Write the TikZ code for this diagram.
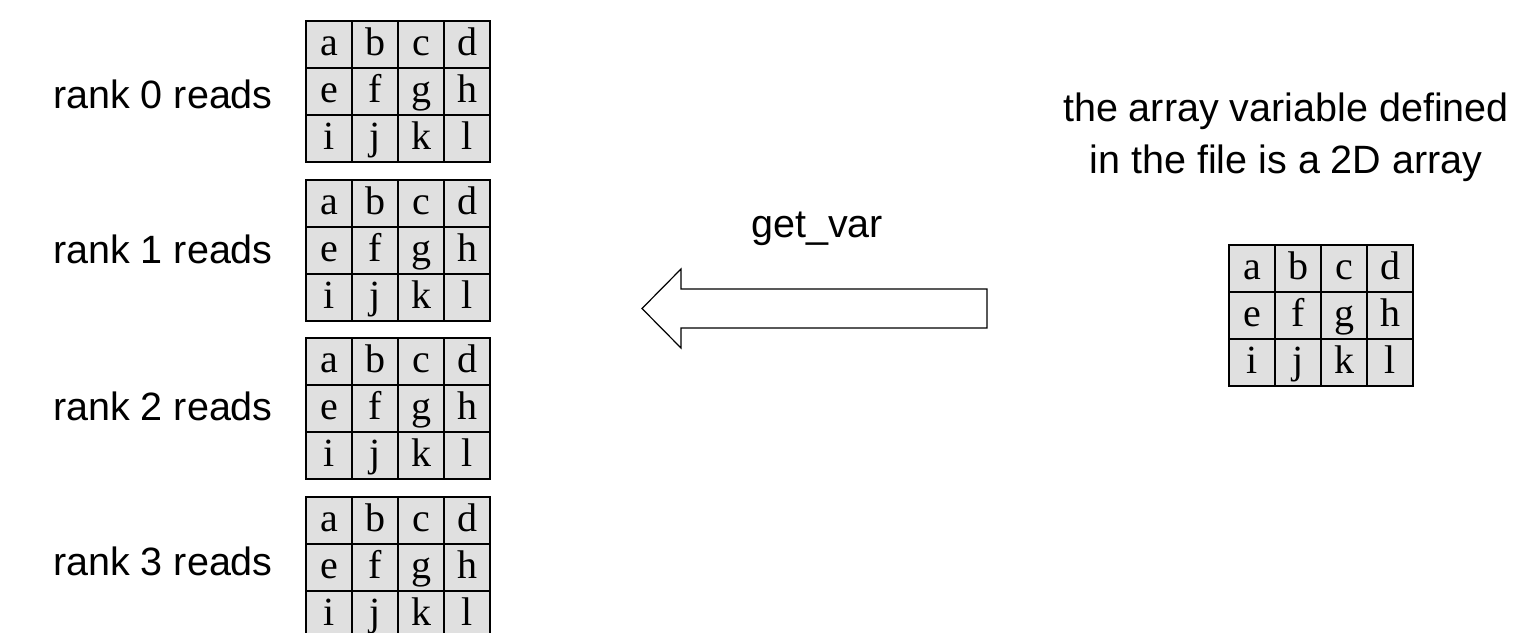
\documentclass[tikz,border=0pt]{standalone}
\usepackage{fontspec}
\setmainfont{Liberation Serif}
\newfontfamily\labelfont{Liberation Sans}
\definecolor{cellgray}{HTML}{E0E0E0}

% a 4x3 grid of letter cells; #1 = name prefix, (#2,#3) = top-left corner
\newcommand\lettergrid[3]{%
  \foreach \c/\col/\row in {a/0/0,b/1/0,c/2/0,d/3/0,
                            e/0/1,f/1/1,g/2/1,h/3/1,
                            i/0/2,j/1/2,k/2/2,l/3/2}
    \node[cell] (#1-\c) at ({#2+23+46*\col},{#3+23.5+47*\row}) {\c};%
}

\begin{document}
\begin{tikzpicture}[x=1pt,y=-1pt,
  cell/.style={draw=black, line width=1.6pt, fill=cellgray,
    minimum width=46pt, minimum height=47pt, inner sep=0pt,
    text height=26pt, text depth=5pt,
    font=\fontsize{40}{44}\selectfont},
  lbl/.style={font=\labelfont\fontsize{39.5}{47}\selectfont, inner sep=0pt},
  blockarrow/.style={draw=black, line width=1.2pt, fill=white, line join=miter}]
\useasboundingbox (0,0) rectangle (1520,632);

% per-rank copies
\lettergrid{g0}{306}{21}
\lettergrid{g1}{306}{180}
\lettergrid{g2}{306}{338}
\lettergrid{g3}{306}{497}

\node[lbl, anchor=base west] (r0) at (53,108) {rank 0 reads};
\node[lbl, anchor=base west] (r1) at (53,263) {rank 1 reads};
\node[lbl, anchor=base west] (r2) at (53,420) {rank 2 reads};
\node[lbl, anchor=base west] (r3) at (53,575) {rank 3 reads};

% the array stored in the file
\lettergrid{gf}{1229}{245}
\node[lbl, anchor=base] (desc1) at (1286,121.7) {the array variable defined};
\node[lbl, anchor=base] (desc2) at (1286,173.3) {in the file is a 2D array};

% read direction
\coordinate (tail) at (987,308.5);
\coordinate (tip) at (642,308.5);
\draw[blockarrow] ([yshift=-19.5pt]tail) -- ([yshift=-19.5pt]tail -| 681,0)
  -- ([yshift=-39.5pt]tip -| 681,0) -- (tip) -- ([yshift=39.5pt]tip -| 681,0)
  -- ([yshift=19.5pt]tail -| 681,0) -- ([yshift=19.5pt]tail) -- cycle;
\node[lbl, anchor=base] (getvar) at (817,237) {get\_var};
\end{tikzpicture}
\end{document}
